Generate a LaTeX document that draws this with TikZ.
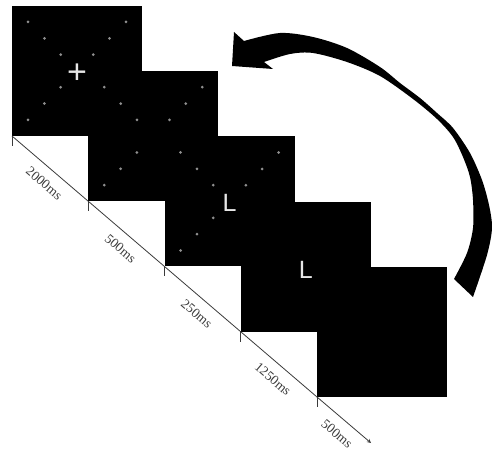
\documentclass[tikz,border=0pt]{standalone}
\usepackage{fontspec}
\setmainfont{Liberation Serif}
\newfontfamily\stimfont{Liberation Sans}
\definecolor{dotgray}{HTML}{8F8F8F}
\definecolor{stimwhite}{HTML}{E6E6E6}
\definecolor{axisgray}{HTML}{3A3A3A}
% the grey X of place holders round the middle of a screen
\newcommand{\maskdots}[1]{%
  \foreach \d in {16.3,32.6,49}
    \foreach \sx/\sy in {1/1,1/-1,-1/1,-1/-1}
      \fill[dotgray] (#1) ++(\sx*\d,\sy*\d) circle (1.5pt);}

\begin{document}
\begin{tikzpicture}[x=1pt, y=1pt,
    screen/.style={fill=black, minimum size=130pt, inner sep=0pt, outer sep=0pt},
    dur/.style={pos=0.55, sloped, below=10pt, inner sep=0pt, font=\fontsize{13.5}{14}\selectfont},
    letter/.style={text=stimwhite, inner sep=0pt, font=\stimfont\fontsize{25}{25}\selectfont}]
    \useasboundingbox (0,0) rectangle (492,452);
    % screens, each one laid over the one before
    \node[screen] (s1) at (77,381) {};
    \maskdots{s1}
    \node[letter, font=\stimfont\fontsize{34}{34}\selectfont] (fix) at (77,378.5) {+};
    \node[screen] (s2) at (153.25,315.75) {};
    \maskdots{s2}
    \node[screen] (s3) at (229.5,250.5) {};
    \maskdots{s3}
    \node[letter] (t3) at (229.5,248.7) {L};
    \node[screen] (s4) at (305.75,185.25) {};
    \node[letter] (t4) at (305.75,182) {L};
    \node[screen] (s5) at (382,120) {};
    % time line
    \coordinate (tend) at (371,9);
    \begin{scope}[axisgray, line width=0.8pt]
        \draw (s1.south west) -- (s2.south west) node[dur] {2000ms};
        \draw (s2.south west) -- (s3.south west) node[dur] {500ms};
        \draw (s3.south west) -- (s4.south west) node[dur] {250ms};
        \draw (s4.south west) -- (s5.south west) node[dur] {1250ms};
        \draw[-stealth] (s5.south west) -- (tend) node[dur] {500ms};
        \draw (s1.south west) -- ++(0,-10);
        \draw (s2.south west) -- ++(0,-10);
        \draw (s3.south west) -- ++(0,-10);
        \draw (s4.south west) -- ++(0,-10);
        \draw (s5.south west) -- ++(0,-10);
    \end{scope}
    % big curved arrow back to the start
    \fill plot[smooth] coordinates {(473,155) (487,197) (492,224) (489,247) (482,272)
        (470,299) (453,324) (437,339) (420,354) (400,369) (380,385) (347,404)
        (313,415) (280,419) (244,411)}
        -- (234,420) -- (232,386) -- (273,383)
        -- plot[smooth] coordinates {(264,390) (290,398) (313,399) (347,390)
        (380,376) (413,353) (437,333) (453,315) (463,295) (470,275) (473,252)
        (473,224) (467,199) (454,173)}
        -- cycle;
\end{tikzpicture}
\end{document}
